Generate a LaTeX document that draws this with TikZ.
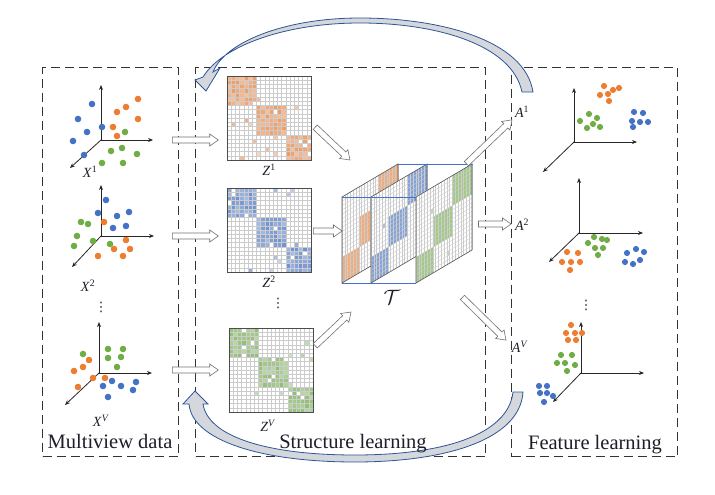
\documentclass[tikz,border=0pt]{standalone}
\usepackage{fontspec}
\setmainfont{Liberation Serif}
\newfontfamily\symfont{DejaVu Sans}
\usetikzlibrary{arrows.meta,positioning,calc,shapes.arrows}
\definecolor{ptblue}{HTML}{4472C4}
\definecolor{ptorange}{HTML}{ED7D31}
\definecolor{ptgreen}{HTML}{70AD47}
\definecolor{loopfill}{HTML}{D4D7DC}
\definecolor{loopline}{HTML}{2F5597}
\definecolor{inkdark}{HTML}{1E1E2A}
\tikzset{
  panel/.style={draw=black!80, line width=1.2pt, dash pattern=on 9pt off 5pt, inner sep=0pt},
  title/.style={font=\fontsize{20.5}{24}\selectfont, text=inkdark, inner sep=0pt},
  symlab/.style={font=\fontsize{14}{16}\selectfont, text=inkdark, inner sep=1pt},
  dotlab/.style={font=\symfont\fontsize{13}{13}\selectfont, text=inkdark, inner sep=0pt},
  axis/.style={-{Stealth[length=5pt,width=4pt]}, line width=0.8pt, draw=black!85},
  fatarr/.style={single arrow, draw=black!55, fill=white, line width=0.6pt, inner sep=2.7pt,
    single arrow head extend=3pt, single arrow tip angle=70},
  matbox/.style={inner sep=0pt, outer sep=0pt, minimum width=84pt, minimum height=84pt},
  gridline/.style={draw=black!20, line width=0.35pt},
  matframe/.style={draw=black!70, line width=0.9pt},
  sliceframe/.style={draw=black!65, line width=0.6pt},
  slicetop/.style={draw=ptblue, line width=0.9pt},
  loop/.style={fill=loopfill, draw=loopline, line width=0.8pt},
  ptb/.style={fill=ptblue},
  pto/.style={fill=ptorange},
  ptg/.style={fill=ptgreen}
}
\newcommand{\vsym}[2]{\textit{#1}\textsuperscript{#2}}
% hollow block arrow between two points
\newcommand{\hollowarrow}[2]{%
  \path #1 coordinate (hatail) #2 coordinate (hatip);
  \path let \p1=($(hatip)-(hatail)$), \n1={atan2(\y1,\x1)}, \n2={veclen(\x1,\y1)} in
    node[fatarr, minimum height=\n2, rotate=\n1, anchor=tail] at (hatail) {};}
% affinity matrix with three diagonal blocks
\newcommand{\affmat}[3]{%
  \pgfmathsetseed{#3}
  \begin{scope}[shift={(#1.north west)}]
    \foreach \i in {0,...,19}{
      \foreach \j in {0,...,19}{
        \pgfmathtruncatemacro\bi{\i/7}
        \pgfmathtruncatemacro\bj{\j/7}
        \pgfmathsetmacro\rr{rnd}
        \pgfmathtruncatemacro\lev{\bi==\bj ? (\rr<0.93 ? 48+30*rnd : 0) : (\rr<0.04 ? 30+30*rnd : 0)}
        \ifnum\lev>0 \fill[#2!\lev] (\j*4.2,\i*4.2) rectangle ++(4.2,4.2);\fi
      }
    }
    \foreach \k in {0,...,20}{
      \draw[gridline] (\k*4.2,0) -- (\k*4.2,84);
      \draw[gridline] (0,\k*4.2) -- (84,\k*4.2);
    }
  \end{scope}
  \draw[matframe] (#1.north west) rectangle (#1.south east);}
% one slanted slice of the tensor
\newcommand{\tslice}[3]{%
  \begin{scope}[shift={#1}, x={(2.8pt,1.65pt)}, y={(0pt,-4.3pt)}]
    \fill[white] (0,0) -- (20,0) -- (20,20) -- (0,20) -- cycle;
    \fill[#2!65] (13,0) -- (20,0) -- (20,7) -- (13,7) -- cycle;
    \fill[#2!65] (6,7) -- (13,7) -- (13,14) -- (6,14) -- cycle;
    \fill[#2!65] (0,14) -- (6,14) -- (6,20) -- (0,20) -- cycle;
    \foreach \u/\v in {#3} \fill[#2!45] (\u,\v) -- ++(1,0) -- ++(0,1) -- ++(-1,0) -- cycle;
    \foreach \k in {0,...,20}{
      \draw[gridline] (\k,0) -- (\k,20);
      \draw[gridline] (0,\k) -- (20,\k);
    }
    \draw[sliceframe] (0,0) -- (20,0) -- (20,20) -- (0,20) -- cycle;
  \end{scope}}

\begin{document}
\begin{tikzpicture}[x=1pt, y=-1pt]
  \useasboundingbox (0,0) rectangle (715,495);

  % dashed panels
  \node[panel, minimum width=136pt, minimum height=389pt, anchor=north west] (mview) at (42,67) {};
  \node[panel, minimum width=290pt, minimum height=389pt, anchor=north west] (struct) at (195,67) {};
  \node[panel, minimum width=166pt, minimum height=389pt, anchor=north west] (feat) at (511,67) {};

  % feedback loops
  \draw[loop] (533,92) .. controls (525,40) and (440,18) .. (360,18)
    .. controls (285,18) and (225,42) .. (213,72) -- (220,68) -- (206,91) -- (195,80) -- (203,77)
    .. controls (222,46) and (285,23) .. (360,23)
    .. controls (435,23) and (512,44) .. (522,92) -- cycle;
  \draw[loop] (523,392) .. controls (520,440) and (445,462) .. (355,462)
    .. controls (260,462) and (192,440) .. (189,404) -- (183,404) -- (195,391) -- (208,404) -- (203,404)
    .. controls (208,436) and (265,455) .. (355,455)
    .. controls (440,455) and (508,436) .. (513,392) -- cycle;

  % multiview scatter plots
  \coordinate (o1) at (101,140);
  \coordinate (o2) at (101,236);
  \coordinate (ov) at (99,373);
  \draw[axis] (o1) -- ++(0,-55);
  \draw[axis] (o1) -- ++(52,0);
  \draw[axis] (o1) -- ++(-31,28);
  \draw[axis] (o2) -- ++(0,-51);
  \draw[axis] (o2) -- ++(53,0);
  \draw[axis] (o2) -- ++(-29,31);
  \draw[axis] (ov) -- ++(0,-51);
  \draw[axis] (ov) -- ++(53,0);
  \draw[axis] (ov) -- ++(-34,32);
  \foreach \p in {(92,104),(78,119),(87,132),(102,127),(73,141),(84,155)} \fill[ptb] \p circle (3.3);
  \foreach \p in {(138,99),(126,107),(117,112),(138,119),(113,127),(117,136)} \fill[pto] \p circle (3.3);
  \foreach \p in {(125,132),(111,151),(122,148),(137,154),(102,163),(123,163)} \fill[ptg] \p circle (3.3);
  \foreach \p in {(106,200),(98,213),(117,216),(129,212),(113,228),(126,226)} \fill[ptb] \p circle (3.3);
  \foreach \p in {(104,222),(126,240),(114,249),(130,249),(98,256),(123,256)} \fill[pto] \p circle (3.3);
  \foreach \p in {(81,222),(88,224),(77,236),(93,241),(74,246),(110,244)} \fill[ptg] \p circle (3.3);
  \foreach \p in {(108,349),(123,349),(108,358),(121,357),(117,367),(83,354)} \fill[ptg] \p circle (3.3);
  \foreach \p in {(89,360),(83,367),(74,371),(93,378),(105,378),(78,387)} \fill[pto] \p circle (3.3);
  \foreach \p in {(112,381),(121,386),(136,382),(133,390),(103,386),(108,397)} \fill[ptb] \p circle (3.3);
  \node[symlab] (x1) at (90,172) {\vsym{X}{1}};
  \node[symlab] (x2) at (88,286) {\vsym{X}{2}};
  \node[symlab] (xv) at (101,421) {\vsym{X}{\textit{V}}};
  \node[dotlab] at (101,307) {⋮};

  % affinity matrices
  \node[matbox] (z1) at (269,118) {};
  \node[matbox, below=28pt of z1] (z2) {};
  \node[matbox, below=56pt of z2, xshift=2pt] (zv) {};
  \affmat{z1}{ptorange}{3}
  \affmat{z2}{ptblue}{17}
  \affmat{zv}{ptgreen}{29}
  \node[symlab, below=3pt of z1] {\vsym{Z}{1}};
  \node[symlab, below=3pt of z2] {\vsym{Z}{2}};
  \node[symlab, below=7pt of zv, xshift=-3pt] {\vsym{Z}{\textit{V}}};
  \node[dotlab] at (278,303) {⋮};

  % tensor
  \node[inner sep=0pt, minimum width=131pt, minimum height=119pt] (tens) at (407.5,223.5) {};
  \tslice{(342,197)}{ptorange}{}
  \tslice{(371,197)}{ptblue}{4/8}
  \tslice{(416,197)}{ptgreen}{5/5,11/17}
  \draw[slicetop] (342,197) -- (416,197);
  \draw[slicetop] (398,164) -- (473,164);
  \draw[slicetop] (342,283) -- (416,283);
  \node[font=\fontsize{22}{24}\selectfont, text=inkdark] (tlab) at (392,297) {$\mathcal{T}$};

  % embeddings
  \node[symlab] (a1) at (522,112) {\vsym{A}{1}};
  \node[symlab] (a2) at (522,225) {\vsym{A}{2}};
  \node[symlab] (av) at (520,347) {\vsym{A}{\textit{V}}};

  % feature scatter plots
  \coordinate (f1) at (574,142);
  \coordinate (f2) at (579,233);
  \coordinate (fv) at (581,373);
  \draw[axis] (f1) -- ++(0,-54);
  \draw[axis] (f1) -- ++(63,0);
  \draw[axis] (f1) -- ++(-31,30);
  \draw[axis] (f2) -- ++(0,-55);
  \draw[axis] (f2) -- ++(64,0);
  \draw[axis] (f2) -- ++(-30,29);
  \draw[axis] (fv) -- ++(0,-51);
  \draw[axis] (fv) -- ++(63,0);
  \draw[axis] (fv) -- ++(-28,29);
  \foreach \p in {(604,86),(613,90),(619,88),(600,95),(608,94),(609,101)} \fill[pto] \p circle (3.1);
  \foreach \p in {(580,121),(589,114),(597,118),(587,128),(593,124),(600,127)} \fill[ptg] \p circle (3.1);
  \foreach \p in {(634,112),(643,113),(632,121),(640,122),(648,122),(633,127)} \fill[ptb] \p circle (3.1);
  \foreach \p in {(588,243),(594,237),(602,239),(607,240),(595,248),(603,248),(598,255)} \fill[ptg] \p circle (3.1);
  \foreach \p in {(567,252),(578,253),(562,262),(571,262),(580,262),(570,270)} \fill[pto] \p circle (3.1);
  \foreach \p in {(636,249),(644,252),(627,253),(625,262),(633,264),(640,260)} \fill[ptb] \p circle (3.1);
  \foreach \p in {(571,325),(566,333),(575,333),(582,333),(568,340),(576,340)} \fill[pto] \p circle (3.1);
  \foreach \p in {(561,355),(572,355),(557,363),(565,363),(575,365),(567,371)} \fill[ptg] \p circle (3.1);
  \foreach \p in {(539,386),(547,386),(540,393),(547,393),(553,396),(544,402)} \fill[ptb] \p circle (3.1);
  \node[dotlab] at (586,305) {⋮};

  % hollow arrows
  \hollowarrow{($(o1)+(71,0)$)}{($(o1 -| z1.west)+(-9,0)$)}
  \hollowarrow{($(o2)+(71,0)$)}{($(o2 -| z2.west)+(-9,0)$)}
  \hollowarrow{($(ov)+(73,-3)$)}{($(ov -| zv.west)+(-11,-3)$)}
  \hollowarrow{($(z1.east)+(4,9)$)}{($(tens.north west)+(8,-4)$)}
  \hollowarrow{($(z2.east)+(2,1)$)}{($(tens.west)+(0,7.5)$)}
  \hollowarrow{($(zv.east)+(2,-24)$)}{($(tens.south west)+(9,29)$)}
  \hollowarrow{($(tens.north east)+(-7,0)$)}{($(a1.south west)+(-2,1)$)}
  \hollowarrow{($(tens.east)+(5,0.5)$)}{($(a2.west)+(-3,-1)$)}
  \hollowarrow{($(tens.south east)+(-11,14)$)}{($(av.west)+(-5,-7)$)}

  % panel titles
  \node[title, anchor=base] at (110,448) {Multiview data};
  \node[title, anchor=base] at (353,448) {Structure learning};
  \node[title, anchor=base] at (595,449) {Feature learning};
\end{tikzpicture}
\end{document}
